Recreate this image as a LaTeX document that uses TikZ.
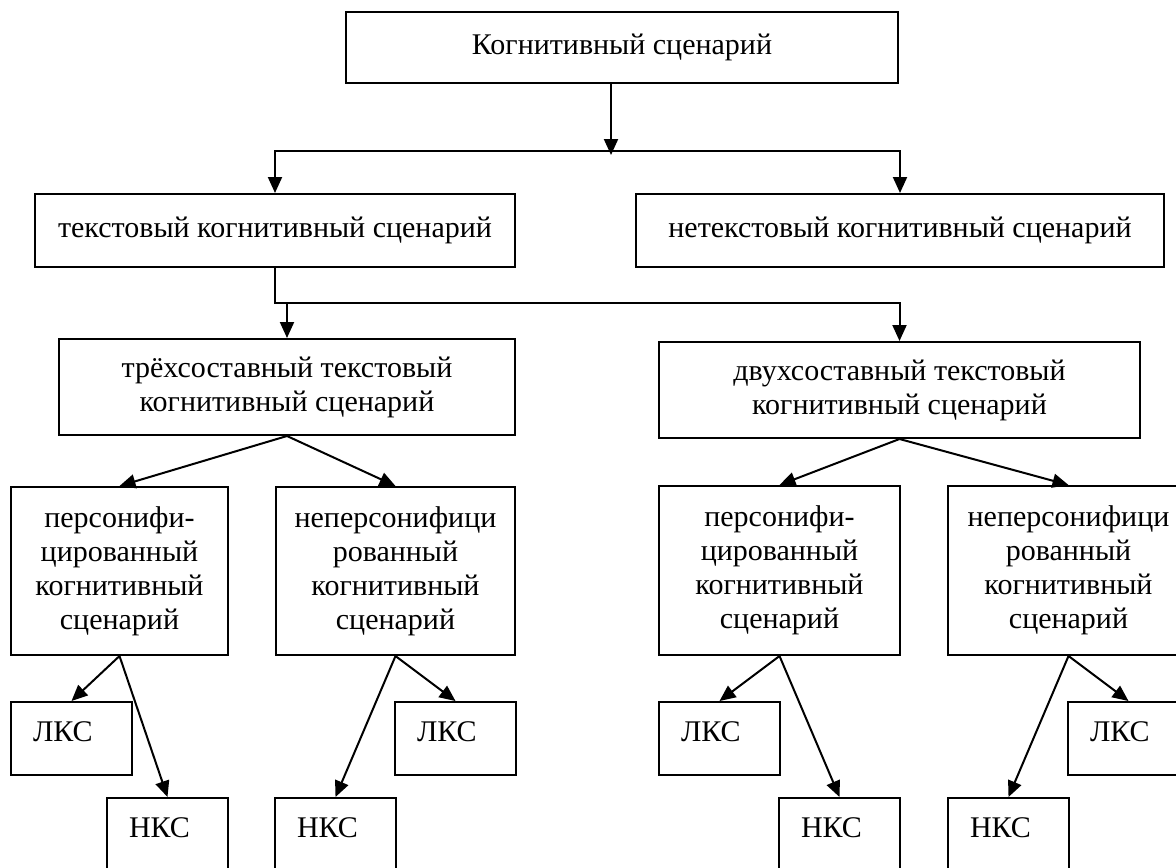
\documentclass[tikz,border=0pt]{standalone}
\usepackage{fontspec}
\setmainfont{Liberation Serif}
\usetikzlibrary{arrows.meta,calc}
\begin{document}
\begin{tikzpicture}[x=0.5pt,y=-0.5pt,
  box/.style={draw, line width=1pt, rectangle, inner sep=0pt, align=center,
    font=\fontsize{15}{17}\selectfont},
  smallbox/.style={box, minimum width=60.5pt, minimum height=36.5pt,
    text width=38.5pt, align=left, text height=19.5pt, text depth=17pt,
    inner xsep=11pt, inner ysep=0pt},
  arr/.style={line width=1pt, line join=miter, -{Triangle[length=8pt,width=7pt]}},
]
\useasboundingbox (0,0) rectangle (1176,867);
\clip (0,0) rectangle (1176,867);

% level 0
\node[box, minimum width=276pt, minimum height=35.5pt] (top) at (622,47.5) {Когнитивный сценарий};
% level 1
\node[box, minimum width=240pt, minimum height=36.5pt] (txt) at (275,230.5) {текстовый когнитивный сценарий};
\node[box, minimum width=264pt, minimum height=36.5pt] (ntxt) at (900,230.5) {нетекстовый когнитивный сценарий};
% level 2
\node[box, minimum width=228pt, minimum height=48pt] (tri) at (287,387) {трёхсоставный текстовый\\когнитивный сценарий};
\node[box, minimum width=240.5pt, minimum height=48pt] (dvu) at (899.5,390) {двухсоставный текстовый\\когнитивный сценарий};
% level 3
\node[box, minimum width=108.5pt, minimum height=84pt] (pl) at (119.5,571) {персонифи-\\цированный\\когнитивный\\сценарий};
\node[box, minimum width=119.5pt, minimum height=84pt] (npl) at (395.5,571) {неперсонифици\\рованный\\когнитивный\\сценарий};
\node[box, minimum width=120.5pt, minimum height=84.5pt] (pr) at (779.5,570.5) {персонифи-\\цированный\\когнитивный\\сценарий};
\node[box, minimum width=120.5pt, minimum height=84.5pt] (npr) at (1068.5,570.5) {неперсонифици\\рованный\\когнитивный\\сценарий};
% level 4
\node[smallbox] (lks1) at (71.5,738.5) {ЛКС};
\node[smallbox] (nks1) at (167.5,834.5) {НКС};
\node[smallbox] (nks2) at (335.5,834.5) {НКС};
\node[smallbox] (lks2) at (455.5,738.5) {ЛКС};
\node[smallbox] (lks3) at (719.5,738.5) {ЛКС};
\node[smallbox] (nks3) at (839.5,834.5) {НКС};
\node[smallbox] (nks4) at (1008.5,834.5) {НКС};
\node[smallbox] (lks4) at (1128.5,738.5) {ЛКС};

% connectors
\coordinate (h) at (611,151);
\coordinate (htip) at (611,155);
\draw[arr] (top.south -| h) -- (htip);
\draw[arr] (h) -| (txt.north);
\draw[arr] (h) -| (ntxt.north);

\coordinate (s) at (287,303);
\draw[arr] (txt.south) |- (s) -- (tri.north);
\draw[arr] (s) -| (dvu.north);

\draw[arr] (tri.south) -- (pl.north);
\draw[arr] (tri.south) -- (npl.north);
\draw[arr] (dvu.south) -- (pr.north);
\draw[arr] (dvu.south) -- (npr.north);

\draw[arr] (pl.south) -- (lks1.north);
\draw[arr] (pl.south) -- (nks1.north);
\draw[arr] (npl.south) -- (nks2.north);
\draw[arr] (npl.south) -- (lks2.north);
\draw[arr] (pr.south) -- (lks3.north);
\draw[arr] (pr.south) -- (nks3.north);
\draw[arr] (npr.south) -- (nks4.north);
\draw[arr] (npr.south) -- (lks4.north);
\end{tikzpicture}
\end{document}
